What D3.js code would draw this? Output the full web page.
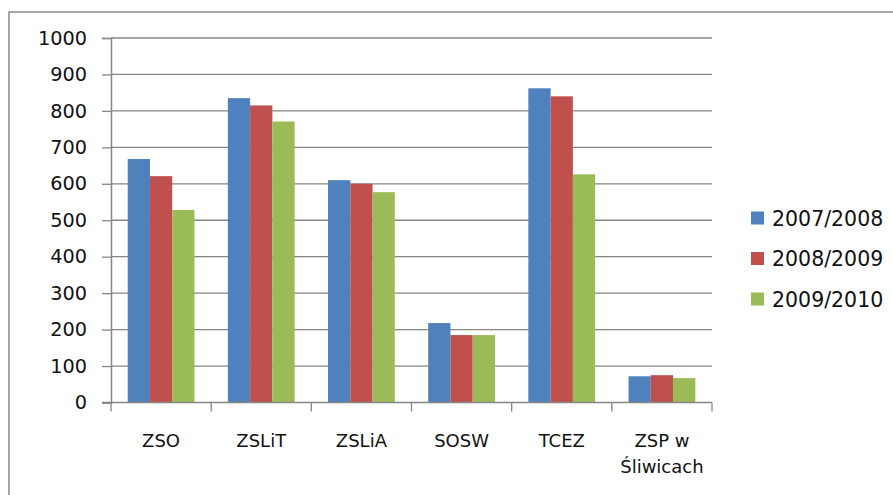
<!DOCTYPE html>
<html>
<head>
<meta charset="utf-8">
<script src="https://cdn.jsdelivr.net/npm/d3@7"></script>
<style>
  body { margin: 0; background: #fff; }
  text { font-family: "DejaVu Sans", sans-serif; fill: #111; }
</style>
</head>
<body>
<svg id="chart" width="893" height="495"></svg>
<script>
// szkoły i liczba uczniów w kolejnych latach
const categories = ['ZSO', 'ZSLiT', 'ZSLiA', 'SOSW', 'TCEZ', 'ZSP w|Śliwicach'];
const series = ['2007/2008', '2008/2009', '2009/2010'];
const v2007 = [668, 835, 610, 218, 862, 72];
const v2008 = [621, 815, 600, 185, 840, 75];
const v2009 = [528, 771, 577, 185, 626, 67];
const yTicks = [0, 100, 200, 300, 400, 500, 600, 700, 800, 900, 1000];
const colors = ['#4f81bd', '#c0504d', '#9bbb59'];

const values = [v2007, v2008, v2009];
const svg = d3.select('#chart');

// ramka wykresu
svg.append('rect')
    .attr('x', 9).attr('y', 12)
    .attr('width', 1000).attr('height', 600)
    .attr('fill', 'none')
    .attr('stroke', '#8c8c8c')
    .attr('stroke-width', 1.5);

const plotLeft = 111, plotRight = 712, plotTop = 38, plotBottom = 402.5;

const y = d3.scaleLinear().domain([0, 1000]).range([plotBottom, plotTop]);
const x0 = d3.scaleBand().domain(categories).range([plotLeft, plotRight]).paddingInner(0).paddingOuter(0);
const x1 = d3.scaleBand().domain(series).range([0, x0.bandwidth()]).paddingInner(0).paddingOuter(0.75);

// linie siatki
svg.append('g').selectAll('line')
    .data(yTicks.filter(d => d > 0))
    .enter().append('line')
    .attr('x1', plotLeft).attr('x2', plotRight)
    .attr('y1', d => y(d)).attr('y2', d => y(d))
    .attr('stroke', '#868686').attr('stroke-width', 1.3);

// słupki
const groups = svg.append('g').selectAll('g')
    .data(categories).enter().append('g')
    .attr('transform', d => `translate(${x0(d)},0)`);

groups.selectAll('rect')
    .data((d, i) => series.map((s, j) => ({ s: s, v: values[j][i], c: colors[j] })))
    .enter().append('rect')
    .attr('x', d => x1(d.s))
    .attr('width', x1.bandwidth())
    .attr('y', d => y(d.v))
    .attr('height', d => y(0) - y(d.v))
    .attr('fill', d => d.c);

// oś Y
const yAxis = svg.append('g')
    .attr('transform', `translate(${plotLeft},0)`)
    .call(d3.axisLeft(y).tickValues(yTicks).tickFormat(d3.format('d')).tickSize(9).tickPadding(15));
yAxis.select('.domain').attr('stroke', '#868686').attr('stroke-width', 1.5);
yAxis.selectAll('.tick line').attr('stroke', '#868686').attr('stroke-width', 1.3);
yAxis.selectAll('.tick text').style('font-size', '19.3px').attr('fill', '#111')
    .style('font-family', '"DejaVu Sans", sans-serif');

// oś X
const xScaleTicks = d3.scaleLinear().domain([0, categories.length]).range([plotLeft, plotRight]);
svg.append('line')
    .attr('x1', plotLeft - 9).attr('x2', plotRight)
    .attr('y1', plotBottom).attr('y2', plotBottom)
    .attr('stroke', '#868686').attr('stroke-width', 1.5);
svg.append('g').selectAll('line')
    .data(d3.range(categories.length + 1))
    .enter().append('line')
    .attr('x1', d => xScaleTicks(d)).attr('x2', d => xScaleTicks(d))
    .attr('y1', plotBottom).attr('y2', plotBottom + 9)
    .attr('stroke', '#868686').attr('stroke-width', 1.3);

const xLabels = svg.append('g').selectAll('text')
    .data(categories).enter().append('text')
    .attr('x', d => x0(d) + x0.bandwidth() / 2)
    .attr('y', 447)
    .attr('text-anchor', 'middle')
    .style('font-size', '18px');
xLabels.each(function (d) {
    const parts = d.split('|');
    const t = d3.select(this);
    parts.forEach((p, i) => {
        t.append('tspan')
            .attr('x', x0(d) + x0.bandwidth() / 2)
            .attr('dy', i === 0 ? 0 : 26)
            .text(p);
    });
});

// legenda
const legend = svg.append('g').selectAll('g')
    .data(series).enter().append('g')
    .attr('transform', (d, i) => `translate(751,${218 + i * 40.5})`);
legend.append('rect')
    .attr('x', 0).attr('y', -6.5)
    .attr('width', 13).attr('height', 13)
    .attr('fill', (d, i) => colors[i]);
legend.append('text')
    .attr('x', 21).attr('y', 7.5)
    .style('font-size', '20.5px')
    .text(d => d);
</script>
</body>
</html>
